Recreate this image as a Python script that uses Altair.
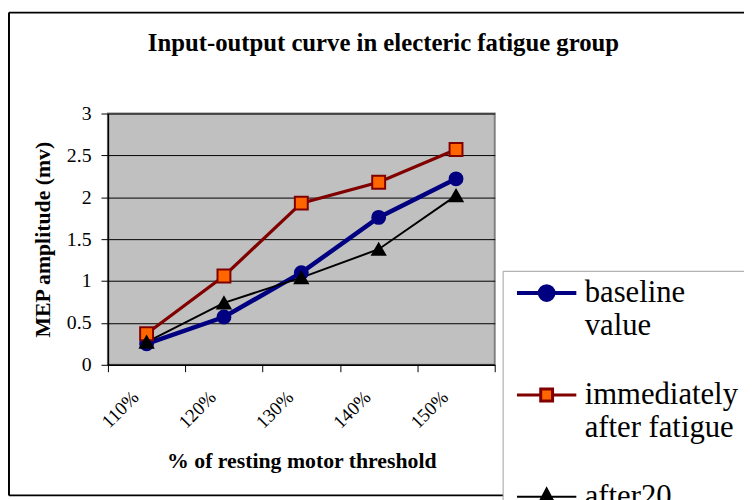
import altair as alt
import pandas as pd

categories = ["110%", "120%", "130%", "140%", "150%"]
series_names = ["baseline value", "immediately after fatigue", "after20 minutes"]
baseline = [0.25, 0.57, 1.10, 1.76, 2.22]
immediately = [0.37, 1.06, 1.93, 2.18, 2.57]
after20 = [0.27, 0.74, 1.04, 1.38, 2.02]
y_ticks = [0, 0.5, 1, 1.5, 2, 2.5, 3]

rows = []
for name, vals in zip(series_names, [baseline, immediately, after20]):
    for c, v in zip(categories, vals):
        rows.append({"pct": c, "value": v, "series": name, "legend_series": name})
df = pd.DataFrame(rows)

line_colors = ["#000080", "#800000", "#000000"]
fill_colors = ["#000080", "#FF6600", "#000000"]
widths = [4.5, 2, 2]

# legend symbols: a line with the marker on it (units of 10 px)
legend_paths = [
    "M-0.8,0H1.5M2.9,0H5.2M1.5,0A0.7,0.7 0 1,1 2.9,0A0.7,0.7 0 1,1 1.5,0Z",
    "M-0.8,0H1.6M2.8,0H5.2M1.6,-0.6H2.8V0.6H1.6Z",
    "M-0.8,0H5.2M2.2,-0.85L2.92,0.5L1.48,0.5Z",
]

FONT = "Liberation Serif"
NB = "\u00a0\u00a0\u00a0"

x_enc = alt.X(
    "pct:N",
    sort=categories,
    bandPosition=0.5,
    scale=alt.Scale(type="band", domain=categories, paddingInner=0, paddingOuter=0),
    axis=alt.Axis(
        title="% of resting motor threshold",
        titleFont=FONT, titleFontSize=22, titleFontWeight="bold", titleColor="black",
        titleBaseline="alphabetic", titleY=104, titleX=195.5,
        labelFont=FONT, labelFontSize=19, labelColor="black",
        labelAngle=-45, labelAlign="right", labelBaseline="top",
        labelPadding=16, labelOffset=-18,
        tickBand="extent", tickSize=7, tickColor="black",
        domainColor="black", domainWidth=1.5, grid=False,
    ),
)
y_enc = alt.Y(
    "value:Q",
    scale=alt.Scale(domain=[0, 3], nice=False, zero=True),
    axis=alt.Axis(
        title="MEP amplitude (mv)",
        titleFont=FONT, titleFontSize=22, titleFontWeight="bold", titleColor="black",
        titleX=-66, titleY=127, titleBaseline="middle", titleAlign="center",
        labelFont=FONT, labelFontSize=20, labelColor="black", labelPadding=10,
        values=y_ticks, format="~g", tickSize=7, tickColor="black",
        domainColor="black", domainWidth=1.5,
        grid=True, gridColor="black", gridWidth=1,
    ),
)

one = pd.DataFrame({"a": [0]})
frame_top = alt.Chart(one).mark_rule(color="black", strokeWidth=2).encode(
    x=alt.value(-100), x2=alt.value(700), y=alt.value(-102)
)
frame_left = alt.Chart(one).mark_rule(color="black", strokeWidth=2).encode(
    x=alt.value(-100), y=alt.value(-102), y2=alt.value(386)
)
frame_bottom = alt.Chart(one).mark_rule(color="black", strokeWidth=2).encode(
    x=alt.value(-100), x2=alt.value(700), y=alt.value(386)
)

lines = alt.Chart(df).mark_line().encode(
    x=x_enc,
    y=y_enc,
    stroke=alt.Stroke("series:N", scale=alt.Scale(domain=series_names, range=line_colors), legend=None),
    strokeWidth=alt.StrokeWidth("series:N", scale=alt.Scale(domain=series_names, range=widths), legend=None),
    detail="series:N",
)

points = alt.Chart(df).mark_point(filled=True, size=170, opacity=1, strokeWidth=2).encode(
    x=x_enc,
    y=y_enc,
    fill=alt.Fill("series:N", scale=alt.Scale(domain=series_names, range=fill_colors), legend=None),
    stroke=alt.Stroke("series:N", scale=alt.Scale(domain=series_names, range=line_colors), legend=None),
    shape=alt.Shape("series:N", scale=alt.Scale(domain=series_names, range=["circle", "square", "triangle-up"]), legend=None),
)

label_expr = (
    "split(datum.label, ' ', 1)[0] == 'baseline' ? ['baseline', 'value'] : "
    "(split(datum.label, ' ', 1)[0] == 'immediately' ? ['immediately" + NB + "', 'after fatigue'] : ['after20', 'minutes'])"
)

leg = alt.Legend(
    title=None, orient="none", legendX=399, legendY=159,
    labelFont=FONT, labelFontSize=31, labelColor="black", labelLimit=400,
    labelExpr=label_expr,
    labelBaseline="middle", labelOffset=45, symbolSize=400, symbolOpacity=1,
    rowPadding=38, padding=7, fillColor="white", strokeColor="#a0a0a0",
)

dummy = alt.Chart(df).mark_point(opacity=0, filled=True).encode(
    x=x_enc,
    y=y_enc,
    fill=alt.Fill("legend_series:N", scale=alt.Scale(domain=series_names, range=fill_colors), legend=leg),
    stroke=alt.Stroke("legend_series:N", scale=alt.Scale(domain=series_names, range=line_colors), legend=leg),
    shape=alt.Shape("legend_series:N", scale=alt.Scale(domain=series_names, range=legend_paths), legend=leg),
    strokeWidth=alt.StrokeWidth("legend_series:N", scale=alt.Scale(domain=series_names, range=[4, 2, 2]), legend=leg),
)

chart = alt.layer(frame_top, frame_left, frame_bottom, lines, points, dummy).resolve_scale(
    fill="independent", stroke="independent", shape="independent", strokeWidth="independent"
).properties(
    width=391,
    height=254,
    padding={"left": 101, "top": 104, "right": 252, "bottom": 134},
    autosize=alt.AutoSizeParams(type="none"),
    title=alt.Title(
        "Input-output curve in electeric fatigue group",
        font=FONT, fontSize=25, fontWeight="bold", color="black",
        anchor="middle", dx=83, offset=-65, baseline="alphabetic",
    ),
).configure(
    background="white", font=FONT,
    style={"guide-label": {"font": FONT}, "guide-title": {"font": FONT}, "group-title": {"font": FONT}},
).configure_view(
    fill="#C0C0C0", stroke="#808080", strokeWidth=2
).configure_axis(
    labelFont=FONT, titleFont=FONT
).configure_legend(
    labelFont=FONT, labelFontSize=31
).configure_title(
    font=FONT
)

chart.save("out.html", embed_options={"renderer": "svg", "actions": False})
